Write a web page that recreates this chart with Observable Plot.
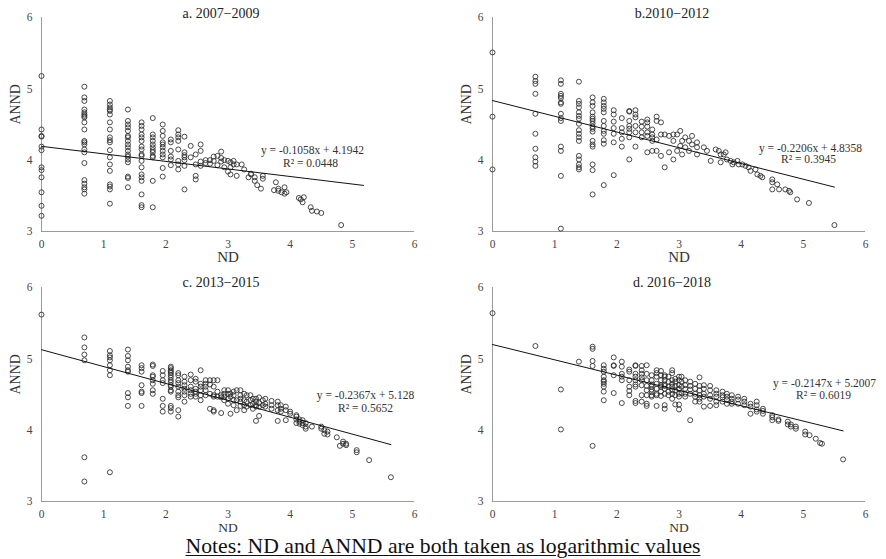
<!DOCTYPE html>
<html>
<head>
<meta charset="utf-8">
<script src="https://cdn.jsdelivr.net/npm/d3@7"></script>
<script src="https://cdn.jsdelivr.net/npm/@observablehq/plot@0.6"></script>
<style>
  html, body { margin: 0; padding: 0; background: #fff; }
  #wrap { position: relative; width: 886px; height: 559px; overflow: hidden; font-family: "Liberation Serif", "DejaVu Serif", serif; }
  .pn { position: absolute; }
  #notes { position: absolute; left: 0; width: 886px; top: 535px; text-align: center; font-size: 21.7px; line-height: 22px; color: #111; text-decoration: underline; text-decoration-thickness: 1px; text-underline-offset: 2px; }
</style>
</head>
<body>
<div id="wrap">
  <div class="pn" id="pa" style="left:0px;top:0px"></div>
  <div class="pn" id="pb" style="left:443px;top:0px"></div>
  <div class="pn" id="pc" style="left:0px;top:270px"></div>
  <div class="pn" id="pd" style="left:443px;top:270px"></div>
  <div id="notes">Notes: ND and ANND are both taken as logarithmic values</div>
</div>
<script>
// ---- tick labels ----
const xTicks = [0, 1, 2, 3, 4, 5, 6];
const yTicks = [3, 4, 5, 6];

// ---- panel titles ----
const titles = ["a. 2007\u22122009", "b.2010\u22122012", "c. 2013\u22122015", "d. 2016\u22122018"];

// ---- regression equations (as printed) ----
const slopes = [-0.1058, -0.2206, -0.2367, -0.2147];
const intercepts = [4.1942, 4.8358, 5.128, 5.2007];
const r2s = [0.0448, 0.3945, 0.5652, 0.6019];
const eqLabels = ["y = -0.1058x + 4.1942", "y = -0.2206x + 4.8358", "y = -0.2367x + 5.128", "y = -0.2147x + 5.2007"];
const r2Labels = ["R\u00b2 = 0.0448", "R\u00b2 = 0.3945", "R\u00b2 = 0.5652", "R\u00b2 = 0.6019"];
const lineEnds = [5.18, 5.5, 5.62, 5.64];

// ---- scatter data: [ND, [ANND values ...]] ----
const groupsA = [
  [0, [5.18,4.43,4.34,4.33,4.19,4.14,3.90,3.86,3.76,3.55,3.36,3.22]],
  [0.69, [5.03,4.88,4.83,4.71,4.67,4.64,4.62,4.60,4.53,4.43,4.27,4.25,4.22,4.15,4.11,3.96,3.72,3.67,3.62,3.59,3.53]],
  [1.10, [4.83,4.78,4.74,4.71,4.69,4.64,4.53,4.43,4.32,4.28,4.25,4.14,4.04,3.94,3.85,3.66,3.63,3.59,3.39]],
  [1.39, [4.71,4.55,4.50,4.46,4.41,4.34,4.32,4.27,4.22,4.18,4.13,4.08,4.05,4.01,3.97,3.77,3.75,3.62]],
  [1.61, [4.53,4.48,4.43,4.36,4.32,4.27,4.19,4.15,4.08,4.06,3.99,3.90,3.80,3.76,3.71,3.52,3.37,3.34]],
  [1.79, [4.59,4.36,4.32,4.27,4.22,4.18,4.14,4.11,4.06,4.04,3.71,3.34]],
  [1.95, [4.50,4.41,4.34,4.25,4.22,4.18,4.13,4.08,4.04,3.89,3.77]],
  [2.08, [4.29,4.25,4.13,4.05,4.01,3.93]],
  [2.20, [4.42,4.36,4.32,4.27,4.15,3.99,3.94,3.87]],
  [2.30, [4.33,4.11,4.07,4.04,4.00,3.92,3.59]],
  [2.40, [4.20,4.04]],
  [2.48, [4.08,3.94,3.78,3.73]],
  [2.56, [4.22,4.13,3.98,3.92]],
  [2.64, [4.00,3.96]],
  [2.71, [4.00,3.95]],
  [2.77, [4.05,3.99]],
  [2.83, [4.06,3.93]],
  [2.89, [4.12,4.03,3.98]],
  [2.94, [4.00,3.90]],
  [3.00, [3.99,3.84]],
  [3.04, [3.97,3.90,3.80]],
  [3.09, [3.99,3.94]],
  [3.14, [3.94,3.78]],
  [3.22, [3.94]],
  [3.26, [3.87]],
  [3.33, [3.76]],
  [3.37, [3.81,3.80]],
  [3.43, [3.76,3.71]],
  [3.47, [3.65]],
  [3.53, [3.60]],
  [3.56, [3.78,3.74]],
  [3.74, [3.58]],
  [3.77, [3.69]],
  [3.81, [3.60,3.57]],
  [3.86, [3.55]],
  [3.91, [3.53,3.62]],
  [3.94, [3.55]],
  [4.14, [3.47]],
  [4.17, [3.45]],
  [4.20, [3.41]],
  [4.22, [3.48]],
  [4.33, [3.34]],
  [4.35, [3.29]],
  [4.43, [3.28]],
  [4.50, [3.26]],
  [4.82, [3.09]]
];

const groupsB = [
  [0, [5.51,4.61,3.87]],
  [0.69, [5.17,5.11,5.07,4.93,4.65,4.37,4.16,4.04,3.98,3.92]],
  [1.10, [5.12,5.07,4.93,4.90,4.87,4.81,4.79,4.65,4.59,4.55,4.19,4.13,3.78,3.04]],
  [1.39, [5.10,4.83,4.79,4.74,4.67,4.62,4.58,4.51,4.42,4.37,4.32,4.27,4.06,4.01,3.94,3.90,3.87]],
  [1.61, [4.88,4.81,4.76,4.67,4.61,4.58,4.55,4.51,4.47,4.44,4.40,4.27,4.22,4.19,3.94,3.86,3.52]],
  [1.79, [4.86,4.81,4.76,4.72,4.67,4.55,4.48,4.41,4.37,4.28,4.23,3.65]],
  [1.95, [4.70,4.64,4.54,4.45,4.37,4.25,3.79]],
  [2.08, [4.59,4.45,4.39,4.30,4.19]],
  [2.20, [4.69,4.68,4.55,4.48,4.44,4.39,4.32,4.01]],
  [2.30, [4.70,4.64,4.60,4.48,4.39,4.19]],
  [2.40, [4.54,4.47,4.39,4.32]],
  [2.49, [4.57,4.53,4.47,4.39,4.34,4.11]],
  [2.57, [4.43,4.36,4.32,4.27,4.13]],
  [2.64, [4.61,4.55,4.29,4.13]],
  [2.71, [4.53,4.36,4.06]],
  [2.77, [4.36,3.90]],
  [2.84, [4.34,4.11]],
  [2.91, [4.36,4.27,4.01]],
  [2.97, [4.36,4.13]],
  [3.02, [4.41,4.20]],
  [3.05, [4.27,4.08]],
  [3.10, [4.32,4.18]],
  [3.16, [4.27,4.13]],
  [3.21, [4.34,4.22]],
  [3.29, [4.25,4.18,4.08]],
  [3.40, [4.18]],
  [3.45, [4.13]],
  [3.51, [3.99]],
  [3.59, [4.15]],
  [3.64, [4.13]],
  [3.67, [4.08,3.97]],
  [3.72, [4.08]],
  [3.75, [4.11]],
  [3.77, [4.01]],
  [3.83, [3.99]],
  [3.86, [3.94]],
  [3.88, [3.97]],
  [3.94, [3.99]],
  [3.96, [3.94]],
  [4.02, [3.94]],
  [4.07, [3.92]],
  [4.12, [3.90]],
  [4.15, [3.85]],
  [4.23, [3.87]],
  [4.26, [3.80]],
  [4.31, [3.78]],
  [4.34, [3.76]],
  [4.50, [3.73,3.69,3.59]],
  [4.58, [3.66]],
  [4.61, [3.59]],
  [4.71, [3.59]],
  [4.77, [3.57]],
  [4.79, [3.55]],
  [4.90, [3.45]],
  [5.09, [3.40]],
  [5.50, [3.09]]
];

const groupsC = [
  [0, [5.62]],
  [0.69, [5.30,5.16,5.06,4.98,3.62,3.28]],
  [1.10, [5.11,5.05,5.02,4.98,4.91,4.84,4.77,3.41]],
  [1.39, [5.13,5.04,4.98,4.89,4.84,4.82,4.52,4.46,4.34]],
  [1.61, [4.91,4.87,4.82,4.63,4.54,4.52,4.34]],
  [1.79, [4.92,4.90,4.77,4.75,4.70,4.65,4.56,4.51]],
  [1.95, [4.83,4.77,4.70,4.66,4.44,4.34,4.26]],
  [2.08, [4.89,4.87,4.84,4.82,4.80,4.77,4.74,4.70,4.67,4.63,4.61,4.56,4.54,4.34,4.31,4.26]],
  [2.20, [4.80,4.77,4.70,4.66,4.61,4.54,4.49,4.46,4.28,4.19]],
  [2.30, [4.75,4.68,4.63,4.58,4.54,4.49,4.40]],
  [2.40, [4.78,4.70,4.61,4.56,4.51,4.47]],
  [2.48, [4.72,4.68,4.58,4.54,4.51,4.47]],
  [2.56, [4.84,4.65,4.61,4.56,4.49,4.42]],
  [2.64, [4.70,4.65,4.61,4.56,4.49]],
  [2.71, [4.70,4.64,4.51,4.30]],
  [2.77, [4.70,4.61,4.49,4.47,4.28,4.26]],
  [2.83, [4.70,4.54,4.47]],
  [2.89, [4.49,4.46,4.24]],
  [2.94, [4.56,4.51,4.47,4.42]],
  [3.00, [4.56,4.51,4.44,4.37]],
  [3.04, [4.51,4.47,4.23]],
  [3.09, [4.54,4.49,4.42,4.35]],
  [3.14, [4.56,4.42,4.28]],
  [3.20, [4.56,4.49,4.44,4.40,4.34]],
  [3.26, [4.51,4.42,4.35,4.28]],
  [3.30, [4.49,4.40,4.33]],
  [3.36, [4.49,4.42,4.35]],
  [3.40, [4.44,4.37,4.30]],
  [3.45, [4.44,4.40,4.35,4.33,4.13]],
  [3.50, [4.46,4.38,4.33,4.20]],
  [3.56, [4.42,4.35]],
  [3.60, [4.44,4.37,4.33]],
  [3.70, [4.41,4.35,4.30]],
  [3.80, [4.40,4.35,4.28,4.13]],
  [3.85, [4.35,4.30,4.26]],
  [3.93, [4.33,4.28,4.14]],
  [4.00, [4.26,4.23]],
  [4.10, [4.21,4.19,4.15,4.10]],
  [4.15, [4.15,4.12,4.09]],
  [4.20, [4.14,4.10,4.07]],
  [4.25, [4.10,4.05,4.02]],
  [4.35, [4.05]],
  [4.50, [4.05,4.02]],
  [4.55, [4.00,3.95]],
  [4.60, [3.98,3.94]],
  [4.75, [3.90]],
  [4.80, [3.78]],
  [4.85, [3.84,3.81]],
  [4.90, [3.81,3.79]],
  [5.07, [3.72,3.69]],
  [5.27, [3.58]],
  [5.62, [3.34]]
];

const groupsD = [
  [0, [5.64]],
  [0.69, [5.18]],
  [1.10, [4.57,4.01]],
  [1.39, [4.96]],
  [1.61, [5.17,5.14,4.97,4.90,3.78]],
  [1.79, [4.91,4.86,4.82,4.75,4.70,4.68,4.65,4.61,4.54,4.42]],
  [1.95, [5.02,4.91,4.90,4.77,4.52]],
  [2.08, [4.96,4.89,4.79,4.75,4.70,4.38]],
  [2.20, [4.85,4.82,4.70,4.61,4.55,4.49]],
  [2.30, [4.91,4.90,4.79,4.75,4.70,4.64,4.61,4.41,4.38]],
  [2.40, [4.90,4.84,4.79,4.74,4.70,4.63,4.49,4.40]],
  [2.48, [4.91,4.79,4.70,4.62,4.56,4.49,4.37,4.34]],
  [2.56, [4.77,4.70,4.64,4.61,4.57,4.54,4.49,4.47]],
  [2.64, [4.84,4.80,4.75,4.65,4.58,4.51,4.49,4.34]],
  [2.71, [4.83,4.77,4.70,4.63,4.61,4.54,4.48]],
  [2.77, [4.77,4.75,4.70,4.64,4.62,4.58,4.51,4.35,4.30]],
  [2.83, [4.75,4.68,4.61,4.54,4.49]],
  [2.89, [4.84,4.80,4.70,4.65,4.61,4.56,4.51,4.44]],
  [2.94, [4.72,4.68,4.62,4.56,4.49,4.36]],
  [3.00, [4.75,4.70,4.63,4.58,4.51,4.47,4.36,4.29]],
  [3.04, [4.75,4.68,4.61,4.52]],
  [3.10, [4.70,4.63,4.58,4.51,4.47]],
  [3.18, [4.68,4.62,4.57,4.51,4.14]],
  [3.26, [4.65,4.58,4.51,4.47,4.40]],
  [3.33, [4.74,4.62,4.56,4.49,4.44,4.40]],
  [3.40, [4.63,4.58,4.51,4.47,4.33]],
  [3.50, [4.62,4.56,4.49,4.44,4.34]],
  [3.60, [4.56,4.51,4.47,4.40,4.35]],
  [3.70, [4.54,4.49,4.46,4.40]],
  [3.77, [4.51,4.47,4.43,4.37]],
  [3.85, [4.49,4.44,4.40,4.37]],
  [3.95, [4.47,4.43,4.37]],
  [4.05, [4.44,4.40,4.35]],
  [4.15, [4.37,4.33,4.23]],
  [4.25, [4.40,4.35,4.29,4.26]],
  [4.35, [4.30,4.27,4.23]],
  [4.50, [4.21,4.18,4.14]],
  [4.60, [4.15,4.13]],
  [4.75, [4.12,4.08]],
  [4.80, [4.08,4.05]],
  [4.88, [4.05,4.02]],
  [5.03, [3.98,3.94]],
  [5.10, [3.93]],
  [5.20, [3.88]],
  [5.27, [3.82]],
  [5.30, [3.81]],
  [5.64, [3.59]]
];

const allGroups = [groupsA, groupsB, groupsC, groupsD];

// ---- layout per panel ----
const layouts = [
  {el: "pa", width: 443, height: 270, ml: 41, mr: 29, mt: 17, mb: 39, ndSize: 15, ndDy: 26, titleDx: -7, titleDy: -4, eq: [271, 133], r2: [269, 146]},
  {el: "pb", width: 443, height: 270, ml: 49, mr: 21, mt: 17, mb: 39, ndSize: 15, ndDy: 26, titleDx: -7, titleDy: -4, eq: [318, 131], r2: [316, 142]},
  {el: "pc", width: 443, height: 261, ml: 41, mr: 29, mt: 17, mb: 30, ndSize: 13.5, ndDy: 26, titleDx: -7, titleDy: -5, eq: [324, 108], r2: [324, 121]},
  {el: "pd", width: 443, height: 261, ml: 49, mr: 21, mt: 17, mb: 30, ndSize: 13.5, ndDy: 26, titleDx: -7, titleDy: -5, eq: [332, 96], r2: [331, 108]}
];

const serif = "Liberation Serif, Times New Roman, serif";

layouts.forEach((L, i) => {
  const pts = allGroups[i].flatMap(([nd, vals]) => vals.map(v => ({nd, annd: v})));
  const fit = [0, lineEnds[i]].map(x => ({nd: x, annd: intercepts[i] + slopes[i] * x}));
  const chart = Plot.plot({
    width: L.width, height: L.height,
    marginLeft: L.ml, marginRight: L.mr, marginTop: L.mt, marginBottom: L.mb,
    x: {domain: [0, 6]},
    y: {domain: [3, 6]},
    style: {fontFamily: serif, color: "#444", background: "transparent", overflow: "visible"},
    marks: [
      Plot.ruleX([0], {stroke: "#9a9a9a", strokeWidth: 1}),
      Plot.ruleY([3], {stroke: "#9a9a9a", strokeWidth: 1}),
      Plot.axisX({ticks: xTicks, tickSize: 0, tickPadding: 8, fontSize: 11.5, label: null, tickFormat: d => String(d)}),
      Plot.axisY({ticks: yTicks, tickSize: 0, tickPadding: 9, fontSize: 11.5, label: null, tickFormat: d => String(d)}),
      Plot.dot(pts, {x: "nd", y: "annd", r: 2.5, stroke: "#2a2a2a", strokeWidth: 0.85, fill: "none"}),
      Plot.line(fit, {x: "nd", y: "annd", stroke: "#111", strokeWidth: 1}),
      Plot.text([titles[i]], {frameAnchor: "top", lineAnchor: "middle", dx: L.titleDx, dy: L.titleDy, fontSize: 14, fill: "#222"}),
      Plot.text(["ANND"], {frameAnchor: "left", lineAnchor: "middle", rotate: -90, dx: -26, fontSize: 14, fill: "#333"}),
      Plot.text(["ND"], {frameAnchor: "bottom", lineAnchor: "middle", dy: L.ndDy, fontSize: L.ndSize, fill: "#333"}),
      Plot.text([eqLabels[i]], {frameAnchor: "top-left", lineAnchor: "middle", dx: L.eq[0], dy: L.eq[1], fontSize: 11.5, textAnchor: "middle", fill: "#333"}),
      Plot.text([r2Labels[i]], {frameAnchor: "top-left", lineAnchor: "middle", dx: L.r2[0], dy: L.r2[1], fontSize: 11.5, textAnchor: "middle", fill: "#333"})
    ]
  });
  document.getElementById(L.el).appendChild(chart);
});
</script>
</body>
</html>
